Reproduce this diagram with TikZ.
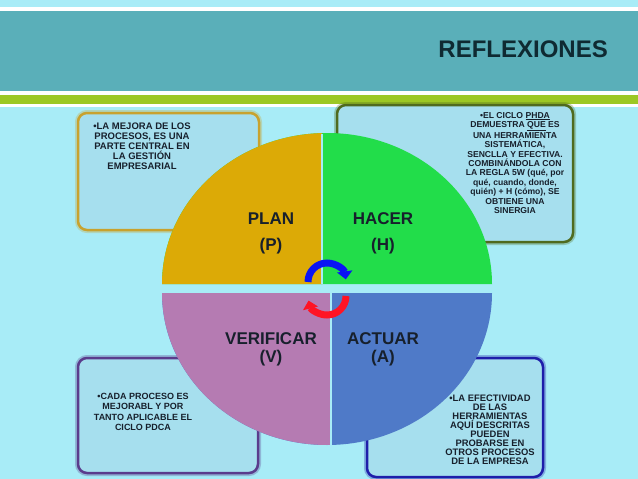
\documentclass[tikz,border=0pt]{standalone}
\usepackage{fontspec}
\setmainfont{Liberation Sans}
\usetikzlibrary{arrows.meta}

\definecolor{bg}{HTML}{A8ECF7}
\definecolor{teal}{HTML}{5AAFB9}
\definecolor{lime}{HTML}{9CC824}
\definecolor{boxfill}{HTML}{A6DFEE}
\definecolor{ink}{HTML}{17202C}
\definecolor{titleink}{HTML}{0F2A32}
\definecolor{cgold}{HTML}{DCAA06}
\definecolor{cgreen}{HTML}{22DD4A}
\definecolor{cpurple}{HTML}{B57BB2}
\definecolor{cblue}{HTML}{4F7AC8}
\definecolor{bgold}{HTML}{C8A22E}
\definecolor{bolive}{HTML}{4F6B1F}
\definecolor{bpurple}{HTML}{5A3C8C}
\definecolor{bblue}{HTML}{1E1EAA}
\definecolor{arrblue}{HTML}{0A14F5}
\definecolor{arrred}{HTML}{FF1424}

\begin{document}
\begin{tikzpicture}[x=1pt,y=-1pt]
    \tikzstyle{every node}=[font=\bfseries, text=ink, inner sep=0pt]
    \tikzstyle{quad}=[anchor=base, font=\bfseries\fontsize{17}{17}\selectfont]
    \tikzstyle{note}=[anchor=north, align=center]
    \tikzstyle{box}=[rounded corners=9pt, fill=boxfill, line width=2.5pt]
    \tikzstyle{glow}=[rounded corners=9pt, line width=6pt, opacity=0.3]
    \tikzstyle{cyc}=[line width=7pt, -{Triangle[length=8pt,width=15pt]}]
    \useasboundingbox (0,0) rectangle (638,479);
    % background and header bands
    \fill[bg] (0,0) rectangle (638,479);
    \fill[white] (0,7) rectangle (638,107);
    \fill[teal] (0,11) rectangle (638,91);
    \fill[lime] (0,95) rectangle (638,104);
    \node[anchor=east, text=titleink, font=\bfseries\fontsize{24}{24}\selectfont] (title) at (608,49) {REFLEXIONES};
    % draw the four boxes
    \draw[glow, bgold] (78,113) rectangle (259,230);
    \draw[box, draw=bgold] (78,113) rectangle (259,230);
    \draw[glow, bolive] (337,105) rectangle (573,242);
    \draw[box, draw=bolive] (337,105) rectangle (573,242);
    \draw[glow, bpurple] (78,358) rectangle (258,473);
    \draw[box, draw=bpurple] (78,358) rectangle (258,473);
    \draw[glow, bblue] (367,358) rectangle (543,477);
    \draw[box, draw=bblue] (367,358) rectangle (543,477);
    % draw the circle
    \fill[cgreen] (162,284) arc[start angle=180, end angle=360, x radius=165, y radius=151] -- cycle;
    \fill[cgold] (322,284) -- (162,284) arc[start angle=180, end angle=268.26, x radius=165, y radius=151] -- cycle;
    \fill[cblue] (162,293) arc[start angle=180, end angle=0, x radius=165, y radius=152] -- cycle;
    \fill[cpurple] (331,293) -- (162,293) arc[start angle=180, end angle=88.61, x radius=165, y radius=152] -- cycle;
    \draw[bg, line width=1.5pt] (322,134) -- (322,284);
    \draw[bg, line width=1.5pt] (331,293) -- (331,445);
    % draw the cycle arrows
    \draw[cyc, arrblue] (308,282) arc[start angle=180, end angle=352, radius=19];
    \draw[cyc, arrred] (346,296) arc[start angle=0, end angle=166, radius=19];
    % draw labels
    \node[quad] (plan) at (271,224) {PLAN};
    \node[quad] (planp) at (271,250) {(P)};
    \node[quad] (hacer) at (383,224) {HACER};
    \node[quad] (hacerh) at (383,250) {(H)};
    \node[quad] (verif) at (271,344) {VERIFICAR};
    \node[quad] (verifv) at (271,362) {(V)};
    \node[quad] (actuar) at (383,344) {ACTUAR};
    \node[quad] (actuara) at (383,362) {(A)};
    % draw notes
    \node[note, font=\bfseries\fontsize{9.5}{10}\selectfont] (mejora) at (142,123)
        {•LA MEJORA DE LOS\\PROCESOS, ES UNA\\PARTE CENTRAL EN\\LA GESTIÓN\\EMPRESARIAL};
    \node[note, font=\bfseries\fontsize{8.6}{9.4}\selectfont] (ciclo) at (515,112)
        {•EL CICLO \underline{PHDA}\\DEMUESTRA \underline{QUE} ES\\UNA HERRAMIENTA\\SISTEMÁTICA,\\SENCLLA Y EFECTIVA.\\COMBINÁNDOLA CON\\LA REGLA 5W (qué, por\\qué, cuando, donde,\\quién) + H (cómo), SE\\OBTIENE UNA\\SINERGIA};
    \node[note, font=\bfseries\fontsize{9}{10.5}\selectfont] (cada) at (143,393)
        {•CADA PROCESO ES\\MEJORABL Y POR\\TANTO APLICABLE EL\\CICLO PDCA};
    \node[note, font=\bfseries\fontsize{9.4}{8.9}\selectfont] (efect) at (490,395)
        {•LA EFECTIVIDAD\\DE LAS\\HERRAMIENTAS\\AQUÍ DESCRITAS\\PUEDEN\\PROBARSE EN\\OTROS PROCESOS\\DE LA EMPRESA};
\end{tikzpicture}
\end{document}
